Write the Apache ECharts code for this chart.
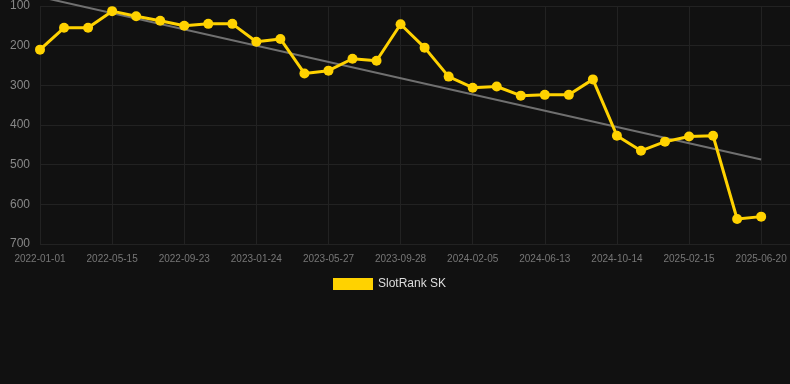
<!DOCTYPE html>
<html>
<head>
<meta charset="utf-8">
<script src="https://cdn.jsdelivr.net/npm/echarts@6/dist/echarts.min.js"></script>
<style>
html,body{margin:0;padding:0;background:#111111;}
#c{width:790px;height:384px;}
</style>
</head>
<body>
<div id="c"></div>
<script>
const categories = [
  '2022-01-01','2022-02-14','2022-03-30','2022-05-15','2022-06-27','2022-08-10',
  '2022-09-23','2022-11-03','2022-12-14','2023-01-24','2023-03-05','2023-04-15',
  '2023-05-27','2023-07-07','2023-08-17','2023-09-28','2023-11-10','2023-12-23',
  '2024-02-05','2024-03-18','2024-04-30','2024-06-13','2024-07-24','2024-09-03',
  '2024-10-14','2024-11-24','2025-01-04','2025-02-15','2025-03-28','2025-05-09',
  '2025-06-20'
];
const rankValues = [
  210,155,155,113,126,137,150,145,145,190,183,270,263,233,238,146,205,278,
  306,303,326,324,324,285,427,465,442,429,427,637,631
];
const trendStart = 77;
const trendEnd = 487;
const yTicks = [100,200,300,400,500,600,700];

const chart = echarts.init(document.getElementById('c'), null, {renderer:'canvas'});
const lastIdx = categories.length - 1;
chart.setOption({
  backgroundColor: '#111111',
  animation: false,
  grid: {left: 40, right: 0, top: 6, bottom: 140, containLabel: false},
  legend: {
    data: ['SlotRank SK'],
    top: 273,
    left: 328,
    itemWidth: 40,
    itemHeight: 12,
    icon: 'rect',
    itemGap: 10,
    textStyle: {color: '#dddddd', fontSize: 12, fontFamily: 'Liberation Sans, Arial, sans-serif'}
  },
  xAxis: {
    type: 'value',
    min: 0,
    max: 31.2,
    interval: 3,
    axisLine: {show: false},
    axisTick: {show: false},
    splitLine: {show: true, lineStyle: {color: '#222222', width: 1}},
    axisLabel: {
      color: '#777777',
      fontSize: 10,
      margin: 10,
      fontFamily: 'Liberation Sans, Arial, sans-serif',
      showMaxLabel: false,
      formatter: v => (Number.isInteger(v) && categories[v]) ? categories[v] : ''
    }
  },
  yAxis: {
    type: 'value',
    inverse: true,
    min: yTicks[0],
    max: yTicks[yTicks.length - 1],
    interval: 100,
    axisLine: {show: false},
    axisTick: {show: false},
    splitLine: {show: true, lineStyle: {color: '#222222', width: 1}},
    axisLabel: {
      color: '#888888',
      fontSize: 12,
      margin: 10,
      fontFamily: 'Liberation Sans, Arial, sans-serif'
    }
  },
  series: [
    {
      name: 'Trend',
      type: 'line',
      data: [[0, trendStart], [lastIdx, trendEnd]],
      symbol: 'none',
      clip: false,
      lineStyle: {color: '#707070', width: 2},
      silent: true,
      z: 1
    },
    {
      name: 'SlotRank SK',
      type: 'line',
      data: rankValues.map((v, i) => [i, v]),
      symbol: 'circle',
      symbolSize: 10,
      clip: false,
      itemStyle: {color: '#FFD200'},
      lineStyle: {color: '#FFD200', width: 3},
      z: 3
    }
  ]
});
</script>
</body>
</html>
